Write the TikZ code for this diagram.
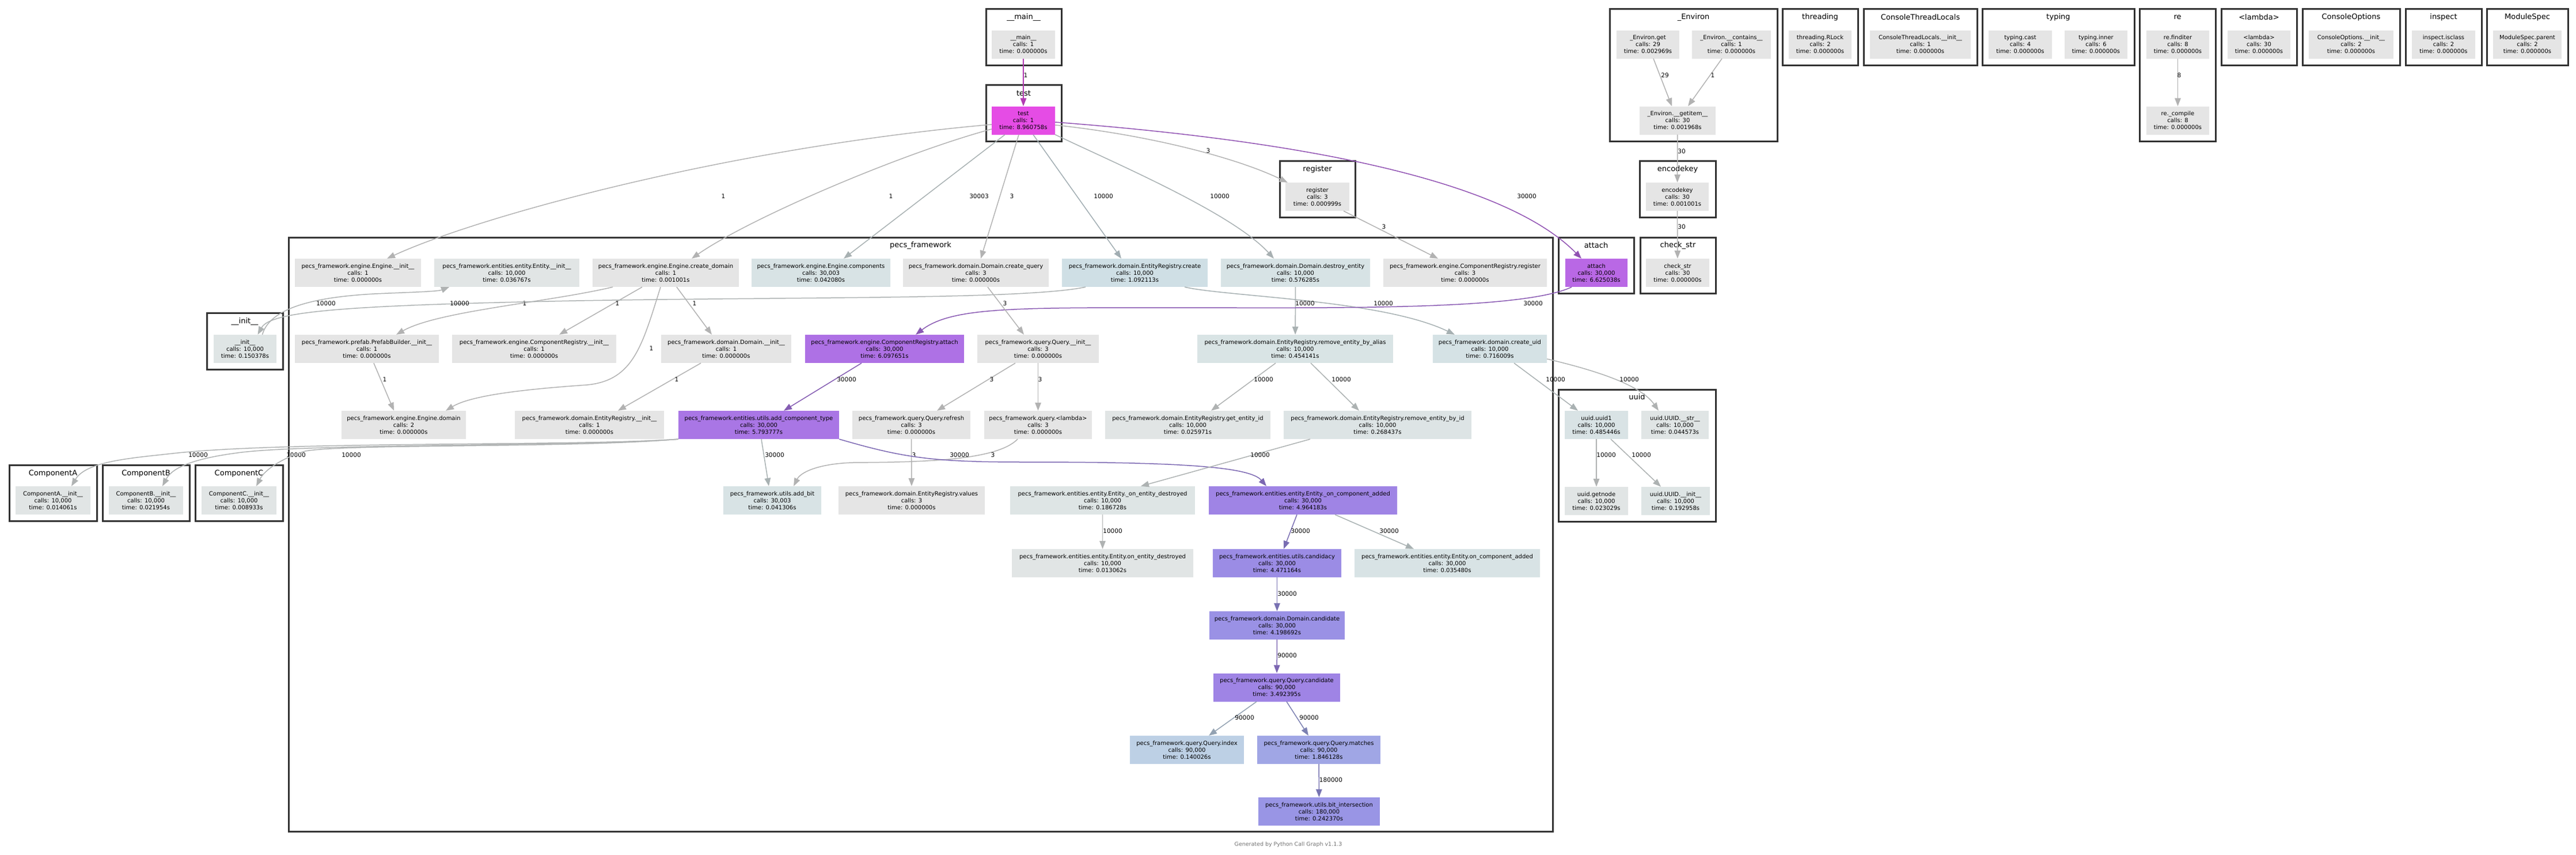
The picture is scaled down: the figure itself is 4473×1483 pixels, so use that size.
\documentclass[tikz,border=0pt]{standalone}
\usepackage{fontspec}
\setmainfont{DejaVu Sans}
\usetikzlibrary{arrows.meta}

% fill (n...) and connector (e...) colour from one weight
\newcommand{\cgcol}[2]{%
  \pgfmathsetmacro{\cghue}{#2/2+0.5}%
  \definecolor{cgtmp}{hsb}{\cghue,#2,0.9}\colorlet{n#1}[rgb]{cgtmp}%
  \definecolor{cgtmp}{hsb}{\cghue,#2,0.7}\colorlet{e#1}[rgb]{cgtmp}}

\begin{document}
\begin{tikzpicture}
        [x=1pt, y=-1pt,
        % Styles
        fn/.style={rectangle, fill=n#1, inner sep=0pt, minimum height=49pt,
                align=center, font=\fontsize{10}{12}\selectfont},
        fn/.default=gray,
        cluster/.style={draw=black!80, line width=3pt, fill=white},
        cltitle/.style={inner sep=0pt, font=\fontsize{13}{15}\selectfont},
        call/.style={draw=e#1, line width=1.5pt, -{Triangle[length=14pt, width=10.5pt]}},
        call/.default=gray,
        elabel/.style={inner sep=0pt, font=\fontsize{10.5}{12}\selectfont}]

        % Colors
        \cgcol{gray}{0}
        \cgcol{test}{0.6667}
        \cgcol{attach}{0.5485}
        \cgcol{crAttach}{0.5092}
        \cgcol{addCompType}{0.4866}
        \cgcol{onCompAddedP}{0.4249}
        \cgcol{queryCandidate}{0.4265}
        \cgcol{candidacy}{0.3882}
        \cgcol{domCandidate}{0.3679}
        \cgcol{bitInter}{0.3514}
        \cgcol{queryMatches}{0.3040}
        \cgcol{queryIndex}{0.1771}
        \cgcol{erCreate}{0.0998}
        \cgcol{createUid}{0.0718}
        \cgcol{destroyEntity}{0.0614}
        \cgcol{components}{0.0587}
        \cgcol{addBit}{0.0586}
        \cgcol{onCompAdded}{0.0582}
        \cgcol{uuid1}{0.0546}
        \cgcol{removeAlias}{0.0523}
        \cgcol{removeId}{0.0385}
        \cgcol{uuidInit}{0.0329}
        \cgcol{onEntDestroyedP}{0.0324}
        \cgcol{init}{0.0297}
        \cgcol{uuidStr}{0.0218}
        \cgcol{entInit}{0.0213}
        \cgcol{getEntityId}{0.0205}
        \cgcol{compB}{0.0202}
        \cgcol{getnode}{0.0202}
        \cgcol{compA}{0.0196}
        \cgcol{onEntDestroyed}{0.0195}
        \cgcol{compC}{0.0192}

        \useasboundingbox (0,0) rectangle (4473,1483);

        % Top clusters
        \draw[cluster] (1712,15) rectangle (1843,113);
        \node[cltitle] (tMain) at (1777.5,30) {\_\_main\_\_};
        \node[fn, minimum width=110pt] (main) at (1777,77) {\_\_main\_\_\\calls: 1\\time: 0.000000s};

        \draw[cluster] (1712,147) rectangle (1843,245);
        \node[cltitle] (tTest) at (1777.5,162) {test};
        \node[fn=test, minimum width=110pt] (test) at (1777,209) {test\\calls: 1\\time: 8.960758s};

        \draw[cluster] (2222,279) rectangle (2353,377);
        \node[cltitle] (tRegister) at (2287.5,294) {register};
        \node[fn, minimum width=111pt] (register) at (2287.5,341.5) {register\\calls: 3\\time: 0.000999s};

        \draw[cluster] (2795,15) rectangle (3086,245);
        \node[cltitle] (tEnviron) at (2940.5,30) {\_Environ};
        \node[fn, minimum width=109pt] (envget) at (2861.5,77) {\_Environ.get\\calls: 29\\time: 0.002969s};
        \node[fn, minimum width=137pt] (envcontains) at (3006.5,77) {\_Environ.\_\_contains\_\_\\calls: 1\\time: 0.000000s};
        \node[fn, minimum width=132pt] (envgetitem) at (2913,209) {\_Environ.\_\_getitem\_\_\\calls: 30\\time: 0.001968s};

        \draw[cluster] (2847,279) rectangle (2979,377);
        \node[cltitle] (tEncodekey) at (2913,294) {encodekey};
        \node[fn, minimum width=109pt] (encodekey) at (2912.5,341.5) {encodekey\\calls: 30\\time: 0.001001s};

        \draw[cluster] (2706,412) rectangle (2837,509);
        \node[cltitle] (tAttach) at (2771.5,426) {attach};
        \node[fn=attach, minimum width=108pt] (attach) at (2772,473.5) {attach\\calls: 30,000\\time: 6.625038s};

        \draw[cluster] (2848,412) rectangle (2979,509);
        \node[cltitle] (tCheckStr) at (2913.5,426) {check\_str};
        \node[fn, minimum width=110pt] (checkstr) at (2913,473.5) {check\_str\\calls: 30\\time: 0.000000s};

        \draw[cluster] (3442,15) rectangle (3706,113);
        \node[cltitle] (tTyping) at (3574,30) {typing};
        \node[fn, minimum width=110pt] (typingCast) at (3508,77) {typing.cast\\calls: 4\\time: 0.000000s};
        \node[fn, minimum width=109pt] (typingInner) at (3639.5,77) {typing.inner\\calls: 6\\time: 0.000000s};

        \draw[cluster] (3715,15) rectangle (3847,245);
        \node[cltitle] (tRe) at (3781,30) {re};
        \node[fn, minimum width=109pt] (reFinditer) at (3781.5,77) {re.finditer\\calls: 8\\time: 0.000000s};
        \node[fn, minimum width=109pt] (reCompile) at (3781.5,209) {re.\_compile\\calls: 8\\time: 0.000000s};

        \foreach \nm/\cx/\nw/\ctitle/\fnname/\ncalls in {
                rlock/3160.5/109/threading/threading.RLock/2,
                ctl/3334.5/175/ConsoleThreadLocals/ConsoleThreadLocals.\_\_init\_\_/1,
                lambda/3922.5/109/<lambda>/<lambda>/30,
                coinit/4082.5/147/ConsoleOptions/ConsoleOptions.\_\_init\_\_/2,
                isclass/4243/110/inspect/inspect.isclass/2,
                msparent/4388.5/119/ModuleSpec/ModuleSpec.parent/2}
        {
                \draw[cluster] ({\cx-\nw/2-11},15) rectangle ({\cx+\nw/2+11},113);
                \node[cltitle] (t\nm) at (\cx,30) {\ctitle};
                \node[fn, minimum width=\nw pt] (\nm) at (\cx,77) {\fnname\\calls: \ncalls\\time: 0.000000s};
        }

        % Left clusters
        \draw[cluster] (359,543) rectangle (491,641);
        \node[cltitle] (tInit) at (425,558) {\_\_init\_\_};
        \node[fn=init, minimum width=109pt] (init) at (425.5,605.5) {\_\_init\_\_\\calls: 10,000\\time: 0.150378s};

        \foreach \nm/\cx/\nw/\ctitle/\ntime in {
                compA/92/130/ComponentA/0.014061,
                compB/253.5/129/ComponentB/0.021954,
                compC/415/130/ComponentC/0.008933}
        {
                \draw[cluster] ({\cx-\nw/2-11},807) rectangle ({\cx+\nw/2+11},904);
                \node[cltitle] (t\nm) at (\cx,822) {\ctitle};
                \node[fn=\nm, minimum width=\nw pt] (\nm) at (\cx,868.5) {\ctitle.\_\_init\_\_\\calls: 10,000\\time: \ntime s};
        }

        % uuid
        \draw[cluster] (2706,676) rectangle (2979,905);
        \node[cltitle] (tUuid) at (2842.5,689) {uuid};
        \node[fn=uuid1, minimum width=110pt] (uuid1) at (2772,737.5) {uuid.uuid1\\calls: 10,000\\time: 0.485446s};
        \node[fn=uuidStr, minimum width=117pt] (uuidStr) at (2908.5,737.5) {uuid.UUID.\_\_str\_\_\\calls: 10,000\\time: 0.044573s};
        \node[fn=getnode, minimum width=110pt] (getnode) at (2772,869.5) {uuid.getnode\\calls: 10,000\\time: 0.023029s};
        \node[fn=uuidInit, minimum width=119pt] (uuidInit) at (2909.5,869.5) {uuid.UUID.\_\_init\_\_\\calls: 10,000\\time: 0.192958s};

        % pecs_framework
        \draw[cluster] (501,412) rectangle (2696,1443);
        \node[cltitle] (tPecs) at (1598.5,426) {pecs\_framework};

        \node[fn, minimum width=219pt] (engInit) at (621.5,473.5) {pecs\_framework.engine.Engine.\_\_init\_\_\\calls: 1\\time: 0.000000s};
        \node[fn=entInit, minimum width=252pt] (entInit) at (880,473.5) {pecs\_framework.entities.entity.Entity.\_\_init\_\_\\calls: 10,000\\time: 0.036767s};
        \node[fn, minimum width=254pt] (createDomain) at (1156,473.5) {pecs\_framework.engine.Engine.create\_domain\\calls: 1\\time: 0.001001s};
        \node[fn=components, minimum width=241pt] (components) at (1425.5,473.5) {pecs\_framework.engine.Engine.components\\calls: 30,003\\time: 0.042080s};
        \node[fn, minimum width=253pt] (createQuery) at (1694.5,473.5) {pecs\_framework.domain.Domain.create\_query\\calls: 3\\time: 0.000000s};
        \node[fn=erCreate, minimum width=253pt] (erCreate) at (1970.5,473.5) {pecs\_framework.domain.EntityRegistry.create\\calls: 10,000\\time: 1.092113s};
        \node[fn=destroyEntity, minimum width=259pt] (destroyEntity) at (2249.5,473.5) {pecs\_framework.domain.Domain.destroy\_entity\\calls: 10,000\\time: 0.576285s};
        \node[fn, minimum width=284pt] (crRegister) at (2544,473.5) {pecs\_framework.engine.ComponentRegistry.register\\calls: 3\\time: 0.000000s};

        \node[fn, minimum width=250pt] (prefabInit) at (637,605.5) {pecs\_framework.prefab.PrefabBuilder.\_\_init\_\_\\calls: 1\\time: 0.000000s};
        \node[fn, minimum width=285pt] (crInit) at (927.5,605.5) {pecs\_framework.engine.ComponentRegistry.\_\_init\_\_\\calls: 1\\time: 0.000000s};
        \node[fn, minimum width=226pt] (domainInit) at (1261,605.5) {pecs\_framework.domain.Domain.\_\_init\_\_\\calls: 1\\time: 0.000000s};
        \node[fn=crAttach, minimum width=276pt] (crAttach) at (1536,605.5) {pecs\_framework.engine.ComponentRegistry.attach\\calls: 30,000\\time: 6.097651s};
        \node[fn, minimum width=211pt] (queryInit) at (1802.5,605.5) {pecs\_framework.query.Query.\_\_init\_\_\\calls: 3\\time: 0.000000s};
        \node[fn=removeAlias, minimum width=340pt] (removeAlias) at (2249,605.5) {pecs\_framework.domain.EntityRegistry.remove\_entity\_by\_alias\\calls: 10,000\\time: 0.454141s};
        \node[fn=createUid, minimum width=198pt] (createUid) at (2587,605.5) {pecs\_framework.domain.create\_uid\\calls: 10,000\\time: 0.716009s};

        \node[fn, minimum width=216pt] (engDomain) at (701,737.5) {pecs\_framework.engine.Engine.domain\\calls: 2\\time: 0.000000s};
        \node[fn, minimum width=259pt] (erInit) at (1023.5,737.5) {pecs\_framework.domain.EntityRegistry.\_\_init\_\_\\calls: 1\\time: 0.000000s};
        \node[fn=addCompType, minimum width=279pt] (addCompType) at (1317.5,737.5) {pecs\_framework.entities.utils.add\_component\_type\\calls: 30,000\\time: 5.793777s};
        \node[fn, minimum width=205pt] (queryRefresh) at (1582.5,737.5) {pecs\_framework.query.Query.refresh\\calls: 3\\time: 0.000000s};
        \node[fn, minimum width=187pt] (queryLambda) at (1802.5,737.5) {pecs\_framework.query.<lambda>\\calls: 3\\time: 0.000000s};
        \node[fn=getEntityId, minimum width=287pt] (getEntityId) at (2062.5,737.5) {pecs\_framework.domain.EntityRegistry.get\_entity\_id\\calls: 10,000\\time: 0.025971s};
        \node[fn=removeId, minimum width=326pt] (removeId) at (2392,737.5) {pecs\_framework.domain.EntityRegistry.remove\_entity\_by\_id\\calls: 10,000\\time: 0.268437s};

        \node[fn=addBit, minimum width=170pt] (addBit) at (1341,868.5) {pecs\_framework.utils.add\_bit\\calls: 30,003\\time: 0.041306s};
        \node[fn, minimum width=254pt] (erValues) at (1583,868.5) {pecs\_framework.domain.EntityRegistry.values\\calls: 3\\time: 0.000000s};
        \node[fn=onEntDestroyedP, minimum width=321pt] (onEntDestroyedP) at (1914.5,868.5) {pecs\_framework.entities.entity.Entity.\_on\_entity\_destroyed\\calls: 10,000\\time: 0.186728s};
        \node[fn=onCompAddedP, minimum width=327pt] (onCompAddedP) at (2262.5,868.5) {pecs\_framework.entities.entity.Entity.\_on\_component\_added\\calls: 30,000\\time: 4.964183s};

        \node[fn=onEntDestroyed, minimum width=315pt] (onEntDestroyed) at (1914.5,977.5) {pecs\_framework.entities.entity.Entity.on\_entity\_destroyed\\calls: 10,000\\time: 0.013062s};
        \node[fn=candidacy, minimum width=223pt] (candidacy) at (2217.5,977.5) {pecs\_framework.entities.utils.candidacy\\calls: 30,000\\time: 4.471164s};
        \node[fn=onCompAdded, minimum width=322pt] (onCompAdded) at (2513,977.5) {pecs\_framework.entities.entity.Entity.on\_component\_added\\calls: 30,000\\time: 0.035480s};

        \node[fn=domCandidate, minimum width=235pt] (domCandidate) at (2217.5,1085.5) {pecs\_framework.domain.Domain.candidate\\calls: 30,000\\time: 4.198692s};
        \node[fn=queryCandidate, minimum width=220pt] (queryCandidate) at (2217,1193) {pecs\_framework.query.Query.candidate\\calls: 90,000\\time: 3.492395s};
        \node[fn=queryIndex, minimum width=198pt] (queryIndex) at (2061,1301.5) {pecs\_framework.query.Query.index\\calls: 90,000\\time: 0.140026s};
        \node[fn=queryMatches, minimum width=214pt] (queryMatches) at (2290,1301.5) {pecs\_framework.query.Query.matches\\calls: 90,000\\time: 1.846128s};
        \node[fn=bitInter, minimum width=211pt] (bitInter) at (2290.5,1408.5) {pecs\_framework.utils.bit\_intersection\\calls: 180,000\\time: 0.242370s};

        \node[font=\fontsize{9.5}{11}\selectfont, text=black!55] (credit) at (2237,1466) {Generated by Python Call Graph v1.1.3};

        % Calls from test
        \draw[call=test] (main) -- (test) node[elabel] at (1781,131) {1};
        \draw[call] ([yshift=-7pt]test.west) .. controls (1250,258) and (820,380) .. ([xshift=50.5pt]engInit.north)
                node[elabel] at (1256,341) {1};
        \draw[call] ([yshift=-15pt]test.west) .. controls (1560,268) and (1300,380) .. ([xshift=45pt]createDomain.north)
                node[elabel] at (1547,341) {1};
        \draw[call=components] ([xshift=-32pt]test.south) -- ([xshift=39.5pt]components.north) node[elabel] at (1700,341) {30003};
        \draw[call] ([xshift=-8pt]test.south) -- ([xshift=8.5pt]createQuery.north) node[elabel] at (1757,341) {3};
        \draw[call=erCreate] ([xshift=17pt]test.south) -- ([xshift=-23.5pt]erCreate.north) node[elabel] at (1916,341) {10000};
        \draw[call=destroyEntity] (test.south east) .. controls (1940,285) and (2140,370) .. ([xshift=-37.5pt]destroyEntity.north)
                node[elabel] at (2118,341) {10000};
        \draw[call] ([yshift=-8pt]test.east) .. controls (2000,235) and (2150,275) .. ([xshift=4pt]register.north west)
                node[elabel] at (2098,262) {3};
        \draw[call=attach] ([yshift=-3pt]test.east) .. controls (2200,240) and (2600,300) .. ([xshift=-26pt]attach.north)
                node[elabel] at (2651,341) {30000};

        % Inside pecs_framework
        \draw[call] ([xshift=-92pt]createDomain.south) .. controls (950,525) and (760,540) .. ([xshift=51pt]prefabInit.north)
                node[elabel] at (911,527) {1};
        \draw[call] ([xshift=-41pt]createDomain.south) -- ([xshift=43.5pt]crInit.north) node[elabel] at (1072,527) {1};
        \draw[call] ([xshift=-9pt]createDomain.south) .. controls (1115,600) and (1100,660) .. (1020,668)
                .. controls (920,675) and (820,685) .. ([xshift=73pt]engDomain.north) node[elabel] at (1131,605) {1};
        \draw[call] ([xshift=19pt]createDomain.south) -- ([xshift=-25pt]domainInit.north) node[elabel] at (1206,527) {1};
        \draw[call] ([xshift=12pt]prefabInit.south) -- ([xshift=-17pt]engDomain.north) node[elabel] at (668,659) {1};
        \draw[call] ([xshift=-44pt]domainInit.south) -- ([xshift=49.5pt]erInit.north) node[elabel] at (1175,659) {1};
        \draw[call=init] ([xshift=-85.5pt]erCreate.south) .. controls (1780,520) and (1400,515) .. (1000,522)
                .. controls (600,530) and (470,540) .. ([xshift=22pt]init.north) node[elabel] at (798,527) {10000};
        \draw[call=entInit] ([xshift=30pt]init.north) .. controls (470,530) and (560,515) .. (650,510)
                .. controls (720,507) and (760,506) .. ([xshift=-100pt]entInit.south) node[elabel] at (566,527) {10000};
        \draw[call=createUid] ([xshift=86.5pt]erCreate.south) .. controls (2130,515) and (2400,520) .. ([xshift=-61pt]createUid.north)
                node[elabel] at (2402,527) {10000};
        \draw[call=removeAlias] (destroyEntity) -- (removeAlias) node[elabel] at (2266,527) {10000};
        \draw[call=crAttach] ([xshift=-43pt]attach.south) .. controls (2640,540) and (2300,534) .. (2000,534)
                .. controls (1750,534) and (1650,535) .. ([xshift=54pt]crAttach.north) node[elabel] at (2662,527) {30000};
        \draw[call=addCompType] ([xshift=-40pt]crAttach.south) -- ([xshift=43.5pt]addCompType.north) node[elabel] at (1470,659) {30000};
        \draw[call] ([xshift=20.5pt]createQuery.south) -- ([xshift=-24.5pt]queryInit.north) node[elabel] at (1745,527) {3};
        \draw[call] ([xshift=-39.5pt]queryInit.south) -- ([xshift=44.5pt]queryRefresh.north) node[elabel] at (1722,659) {3};
        \draw[call] (queryInit) -- (queryLambda) node[elabel] at (1806,659) {3};
        \draw[call] (queryRefresh) -- (erValues) node[elabel] at (1587,790) {3};
        \draw[call] ([xshift=-35.5pt]queryLambda.south) .. controls (1730,800) and (1600,802) .. (1480,803)
                .. controls (1420,805) and (1390,820) .. ([xshift=37pt]addBit.north) node[elabel] at (1724,790) {3};
        \draw[call=addBit] ([xshift=4.5pt]addCompType.south) -- ([xshift=-6pt]addBit.north) node[elabel] at (1345,790) {30000};
        \draw[call=onCompAddedP] (addCompType.south east) .. controls (1570,795) and (1620,802) .. (1780,802)
                .. controls (2050,802) and (2170,810) .. ([xshift=-63.5pt]onCompAddedP.north) node[elabel] at (1666,790) {30000};
        \draw[call=compA] (addCompType.south west) .. controls (1000,775) and (500,765) .. (300,787)
                .. controls (230,795) and (150,800) .. ([xshift=32pt]compA.north) node[elabel] at (344,790) {10000};
        \draw[call=compB] (addCompType.south west) .. controls (1000,775) and (550,770) .. (420,785)
                .. controls (340,795) and (300,810) .. ([xshift=28.5pt]compB.north) node[elabel] at (514,790) {10000};
        \draw[call=compC] (addCompType.south west) .. controls (1000,778) and (600,770) .. (530,783)
                .. controls (490,795) and (460,815) .. ([xshift=30pt]compC.north) node[elabel] at (610,790) {10000};
        \draw[call=getEntityId] ([xshift=-34pt]removeAlias.south) -- ([xshift=40.5pt]getEntityId.north) node[elabel] at (2194,659) {10000};
        \draw[call=removeId] ([xshift=27pt]removeAlias.south) -- ([xshift=-32pt]removeId.north) node[elabel] at (2329,659) {10000};
        \draw[call=onEntDestroyedP] ([xshift=-117pt]removeId.south) -- ([xshift=66.5pt]onEntDestroyedP.north) node[elabel] at (2188,790) {10000};
        \draw[call=onEntDestroyed] (onEntDestroyedP) -- (onEntDestroyed) node[elabel] at (1932,922) {10000};
        \draw[call=candidacy] ([xshift=-10.5pt]onCompAddedP.south) -- ([xshift=11.5pt]candidacy.north) node[elabel] at (2258,922) {30000};
        \draw[call=onCompAdded] ([xshift=55.5pt]onCompAddedP.south) -- ([xshift=-58pt]onCompAdded.north) node[elabel] at (2412,922) {30000};
        \draw[call=domCandidate] (candidacy) -- (domCandidate) node[elabel] at (2235,1031) {30000};
        \draw[call=queryCandidate] (domCandidate) -- (queryCandidate) node[elabel] at (2235,1138) {90000};
        \draw[call=queryIndex] ([xshift=-35pt]queryCandidate.south) -- ([xshift=38pt]queryIndex.north) node[elabel] at (2161,1246) {90000};
        \draw[call=queryMatches] ([xshift=17pt]queryCandidate.south) -- ([xshift=-18pt]queryMatches.north) node[elabel] at (2273,1246) {90000};
        \draw[call=bitInter] (queryMatches) -- (bitInter) node[elabel] at (2311,1354) {180000};

        % uuid and the small modules
        \draw[call=uuid1] ([xshift=42pt]createUid.south) -- ([xshift=-32pt]uuid1.north) node[elabel] at (2701,659) {10000};
        \draw[call=uuidStr] ([yshift=-17.5pt]createUid.east) .. controls (2780,645) and (2850,670) .. ([xshift=-28.5pt]uuidStr.north)
                node[elabel] at (2829,659) {10000};
        \draw[call=getnode] (uuid1) -- (getnode) node[elabel] at (2789,790) {10000};
        \draw[call=uuidInit] ([xshift=25pt]uuid1.south) -- ([xshift=-25.5pt]uuidInit.north) node[elabel] at (2850,790) {10000};
        \draw[call] ([xshift=45.5pt]register.south) -- ([xshift=-47pt]crRegister.north) node[elabel] at (2403,394) {3};
        \draw[call] ([xshift=9.5pt]envget.south) -- ([xshift=-10pt]envgetitem.north) node[elabel] at (2891,131) {29};
        \draw[call] ([xshift=-16.5pt]envcontains.south) -- ([xshift=18pt]envgetitem.north) node[elabel] at (2974,131) {1};
        \draw[call] (envgetitem) -- (encodekey) node[elabel] at (2920,263) {30};
        \draw[call] (encodekey) -- (checkstr) node[elabel] at (2920,394) {30};
        \draw[call] (reFinditer) -- (reCompile) node[elabel] at (3784,131) {8};
\end{tikzpicture}
\end{document}
